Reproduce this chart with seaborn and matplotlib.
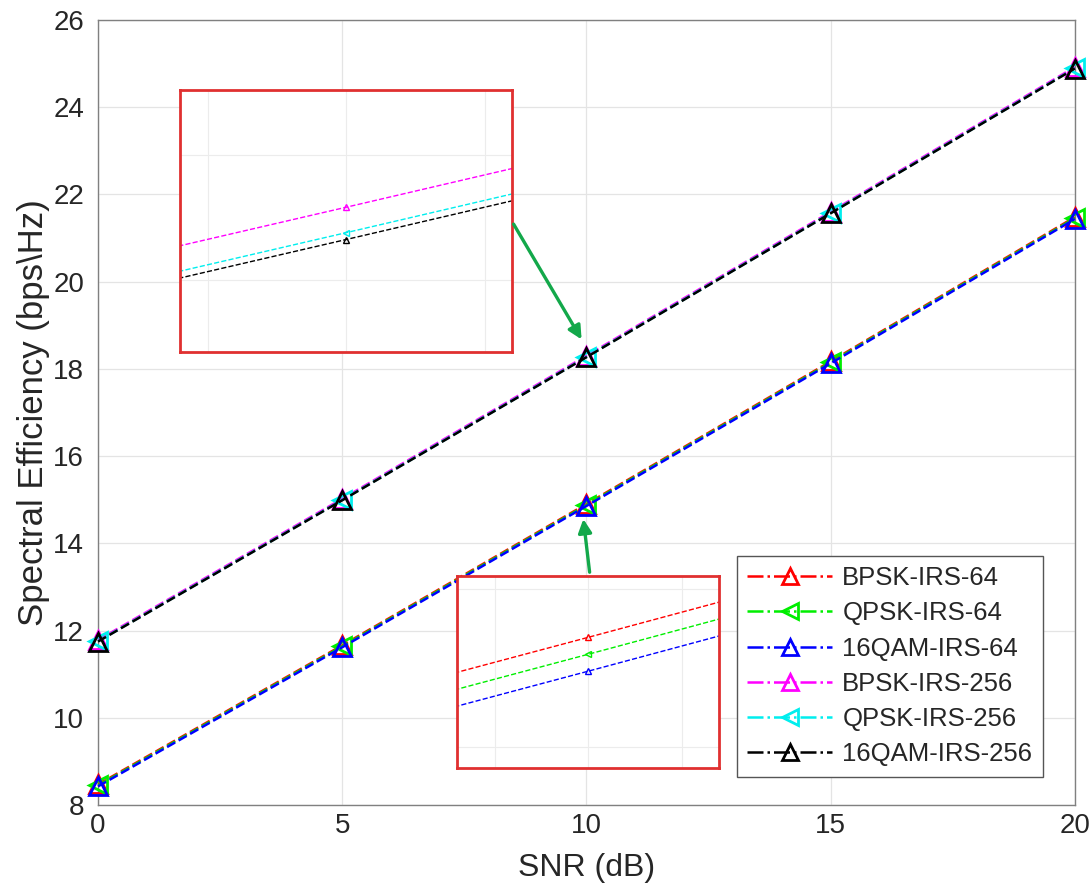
import numpy as np
import pandas as pd
import matplotlib
matplotlib.use("Agg")
import matplotlib.pyplot as plt
import seaborn as sns

snr = [0, 5, 10, 15, 20]
bpsk_64 = [8.47, 11.66, 14.90, 18.17, 21.48]
qpsk_64 = [8.448, 11.638, 14.878, 18.148, 21.458]
qam16_64 = [8.426, 11.616, 14.856, 18.126, 21.436]
bpsk_256 = [11.78, 15.02, 18.30, 21.60, 24.92]
qpsk_256 = [11.754, 14.994, 18.274, 21.574, 24.894]
qam16_256 = [11.747, 14.987, 18.267, 21.567, 24.887]

labels = ["BPSK-IRS-64", "QPSK-IRS-64", "16QAM-IRS-64",
          "BPSK-IRS-256", "QPSK-IRS-256", "16QAM-IRS-256"]
series = [bpsk_64, qpsk_64, qam16_64, bpsk_256, qpsk_256, qam16_256]
colors = ["#ff0000", "#00ee00", "#0000ff", "#ff00ff", "#00eeee", "#000000"]
markers = ["^", "<", "^", "^", "<", "^"]

sns.set_theme(style="whitegrid")
plt.rcParams["font.family"] = ["Liberation Sans", "DejaVu Sans"]

fig = plt.figure(figsize=(10.89, 8.88), dpi=100)
ax = fig.add_axes([0.09, 0.0935, 0.897, 0.884])

for lab, vals, c, m in zip(labels, series, colors, markers):
    sns.lineplot(x=snr, y=vals, ax=ax, color=c, marker=m, linestyle="--",
                 linewidth=1.8, markersize=13, markerfacecolor="none",
                 markeredgecolor=c, markeredgewidth=2.0, label=lab,
                 clip_on=False, zorder=3)

ax.set_xlim(0, 20)
ax.set_ylim(8, 26)
ax.set_xticks([0, 5, 10, 15, 20])
ax.set_yticks(np.arange(8, 27, 2))
ax.tick_params(axis="both", direction="in", length=6, labelsize=20,
               colors="#262626", width=0.9)
ax.tick_params(axis="y", pad=10)
ax.tick_params(axis="x", pad=6)
for s in ax.spines.values():
    s.set_color("#808080")
    s.set_linewidth(1.0)
ax.grid(True, color="#e4e4e4", linewidth=0.9)
ax.set_facecolor("white")
ax.set_xlabel("SNR (dB)", fontsize=23, color="#262626", labelpad=10)
ax.set_ylabel(r"Spectral Efficiency (bps\Hz)", fontsize=25, color="#262626",
              labelpad=2)

leg = ax.legend(loc="lower right", bbox_to_anchor=(0.967, 0.036), fontsize=18.5,
                frameon=True, fancybox=False, framealpha=1, edgecolor="#555555",
                handlelength=3.3, handletextpad=0.4, borderpad=0.4,
                labelspacing=0.44, borderaxespad=0.0)
leg.get_frame().set_linewidth(1.0)
for ln in leg.get_lines():
    ln.set_linestyle("-.")
    ln.set_markersize(12)

def make_inset(bounds, xlim, ylim, yticks, idxs):
    ins = ax.inset_axes(bounds)
    for i in idxs:
        sns.lineplot(x=snr, y=series[i], ax=ins, color=colors[i], marker=markers[i],
                     linestyle="--", linewidth=1.0, markersize=5,
                     markerfacecolor="none", markeredgecolor=colors[i],
                     markeredgewidth=1.0, legend=False)
    ins.set_xlim(*xlim)
    ins.set_ylim(*ylim)
    ins.set_xticks([9.95, 10.0, 10.05])
    ins.set_yticks(yticks)
    ins.set_xticklabels([])
    ins.set_yticklabels([])
    ins.tick_params(length=0)
    ins.grid(True, color="#ececec", linewidth=0.8)
    ins.set_facecolor("white")
    for s in ins.spines.values():
        s.set_color("#e03030")
        s.set_linewidth(2.0)
    ins.set_zorder(4)
    return ins

make_inset([0.084, 0.577, 0.34, 0.334], (9.94, 10.06), (18.152, 18.42),
           [18.226, 18.353], [3, 4, 5])
make_inset([0.368, 0.047, 0.268, 0.245], (9.93, 10.07), (14.73, 14.98),
           [14.757, 14.9625], [0, 1, 2])

arrow_kw = dict(arrowstyle="-|>", color="#13a84a", lw=2.4, mutation_scale=20)
ax.annotate("", xy=(9.93, 18.62), xycoords="data",
            xytext=(0.424, 0.743), textcoords="axes fraction",
            arrowprops=arrow_kw, zorder=5)
ax.annotate("", xy=(9.93, 14.62), xycoords="data",
            xytext=(0.5036, 0.293), textcoords="axes fraction",
            arrowprops=arrow_kw, zorder=5)

fig.savefig("out.png", dpi=100, facecolor="white")
